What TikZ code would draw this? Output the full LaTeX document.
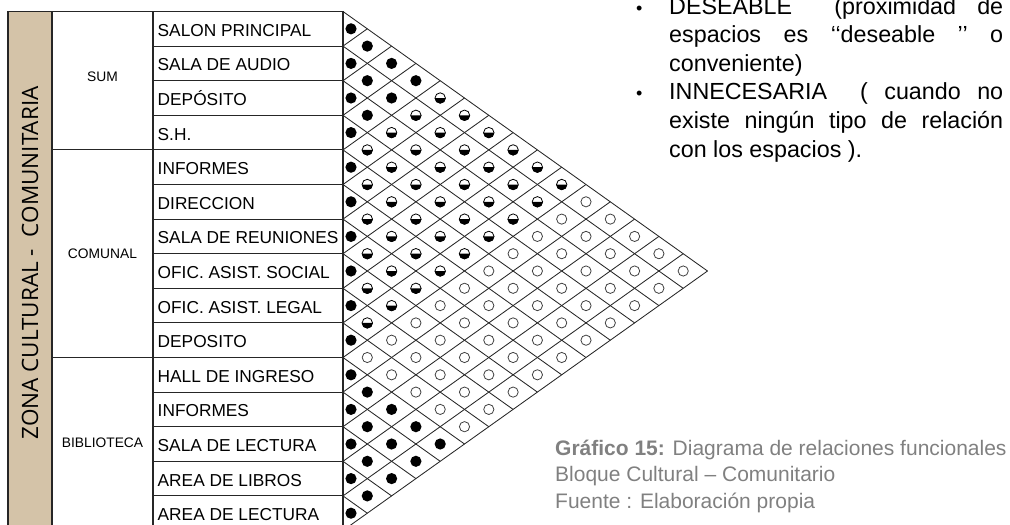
\documentclass[tikz,border=0pt]{standalone}
\usepackage{fontspec}
\setmainfont{Liberation Sans}
\newfontfamily\zonafont{Open Sans}
\usetikzlibrary{positioning}

\definecolor{zonatan}{RGB}{212,195,168}
\definecolor{notegray}{RGB}{128,128,128}

\newcommand{\dotr}{5.6}

\tikzset{
  tabline/.style={line width=1.1pt, black!85},
  gridline/.style={line width=0.85pt, black!85},
  rowlabel/.style={anchor=base west, inner sep=0pt, font=\fontsize{17.3}{20}\selectfont},
  grouplabel/.style={inner sep=0pt, font=\fontsize{13.8}{16}\selectfont},
  notetext/.style={anchor=base west, inner sep=0pt, font=\fontsize{23.3}{28}\selectfont},
  bulletmark/.style={anchor=base west, inner sep=0pt, font=\fontsize{18}{20}\selectfont},
  captext/.style={anchor=base west, inner sep=0pt, text=notegray, font=\fontsize{21}{26}\selectfont},
  emptydot/.style={draw=black!75, line width=0.8pt},
}

\begin{document}
\begin{tikzpicture}[x=1pt, y=-1pt]
\useasboundingbox (0,0) rectangle (1010,525);

% zone column and table
\fill[zonatan] (8,11.5) rectangle (52,540);
\draw[tabline] (8,540) -- (8,11.5) -- (343,11.5) -- (343,540);
\draw[tabline] (52,11.5) -- (52,540);
\draw[tabline] (153,11.5) -- (153,540);
\foreach \r in {1,...,14}
  \draw[tabline] (153,11.5+\r*34.6) -- (343,11.5+\r*34.6);
\foreach \r in {4,10}
  \draw[tabline] (52,11.5+\r*34.6) -- (153,11.5+\r*34.6);

\node[rotate=90, inner sep=0pt, font=\zonafont\fontsize{22.5}{26}\selectfont] (zona) at (30,263) {ZONA CULTURAL -\ \ COMUNITARIA};
\node[grouplabel] (sum) at (102.5,77) {SUM};
\node[grouplabel] (comunal) at (102.5,253.5) {COMUNAL};
\node[grouplabel] (biblio) at (102.5,443) {BIBLIOTECA};

\foreach \t [count=\r] in {SALON PRINCIPAL, SALA DE AUDIO, DEPÓSITO, S.H., INFORMES, DIRECCION, SALA DE REUNIONES, OFIC. ASIST. SOCIAL, OFIC. ASIST. LEGAL, DEPOSITO, HALL DE INGRESO, INFORMES, SALA DE LECTURA, AREA DE LIBROS, AREA DE LECTURA}
  \node[rowlabel] (esp\r) at (157.5,11.5+\r*34.6-9.8) {\t};

% relation grid
\foreach \b in {0,...,15}{
  \pgfmathsetmacro\yb{11.5+\b*34.6}
  \draw[gridline] (343,\yb) -- ++({(15-\b)*24.3},{(15-\b)*17.3});
  \draw[gridline] (343,\yb) -- ++({\b*24.3},{-\b*17.3});
}

% dots
\foreach \r in {1,...,15}
  \fill (351,11.5+\r*34.6-17.3) circle[radius=\dotr];
\foreach \i in {1,...,14}{
  \pgfmathtruncatemacro\jfirst{\i+1}
  \foreach \j in {\jfirst,...,15}{
    \pgfmathsetmacro\dx{343+(\j-\i)*24.3}
    \pgfmathsetmacro\dy{11.5+(\i+\j-1)*17.3}
    \pgfmathtruncatemacro\kind{(\j<=4 || \i>=11) ? 2 : (\j<=10 ? 1 : 0)}
    \ifcase\kind
      \draw[emptydot] (\dx,\dy) circle[radius=\dotr-0.5];
    \or
      \fill (\dx,\dy) ++(-\dotr,0) arc[start angle=180, end angle=0, radius=\dotr] -- cycle;
      \draw[line width=0.8pt] (\dx,\dy) circle[radius=\dotr-0.4];
    \or
      \fill (\dx,\dy) circle[radius=\dotr];
    \fi
  }
}

% notes
\node[bulletmark] (bul1) at (636,14) {•};
\node[notetext] (des1) at (669,14) {\makebox[334pt][s]{DESEABLE\ \ (proximidad de}};
\node[notetext] (des2) at (669,42.6) {\makebox[334pt][s]{espacios es ‘‘deseable ’’ o}};
\node[notetext] (des3) at (669,71.2) {conveniente)};
\node[bulletmark] (bul2) at (636,99.8) {•};
\node[notetext] (inn1) at (669,99.8) {\makebox[334pt][s]{INNECESARIA\ \ ( cuando no}};
\node[notetext] (inn2) at (669,128.4) {\makebox[334pt][s]{existe ningún tipo de relación}};
\node[notetext] (inn3) at (669,157) {con los espacios ).};

\node[captext] (cap1) at (555,455) {\textbf{Gráfico 15:} Diagrama de relaciones funcionales};
\node[captext] (cap2) at (555,481.5) {Bloque Cultural – Comunitario};
\node[captext] (cap3) at (555,508) {Fuente : Elaboración propia};
\end{tikzpicture}
\end{document}
